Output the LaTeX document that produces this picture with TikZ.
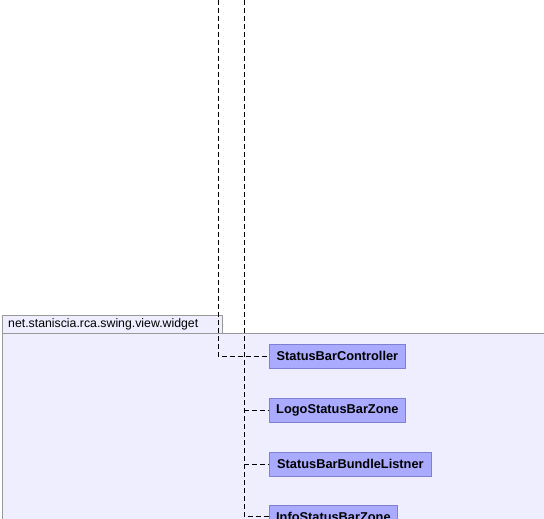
\documentclass[tikz,border=0pt]{standalone}
\usepackage{fontspec}
\setmainfont{Liberation Sans}
\begin{document}
\begin{tikzpicture}[x=1pt,y=-1pt,
  pkg/.style={draw=pkgline,fill=pkgfill,line width=0.8pt},
  cls/.style={draw=clsline,fill=clsfill,line width=0.8pt,anchor=north west,inner sep=0pt,
    font=\bfseries\fontsize{12.8}{14}\selectfont,align=center},
  dep/.style={draw=black,line width=0.7pt,dash pattern=on 5pt off 3pt}]
\definecolor{pkgfill}{HTML}{EEEEFF}
\definecolor{pkgline}{HTML}{999999}
\definecolor{clsfill}{HTML}{AAAAFF}
\definecolor{clsline}{HTML}{8080D0}
\useasboundingbox (0,0) rectangle (544,519);
\fill[white] (0,0) rectangle (544,519);
% package frame with its tab
\path[pkg] (2,315) rectangle (222,333);
\path[pkg] (2,333) rectangle (560,540);
\node[anchor=west,inner sep=0pt,font=\fontsize{12.3}{14}\selectfont] (pkgname) at (8,324.5) {net.staniscia.rca.swing.view.widget};
% classes
\node[cls,minimum width=136pt,minimum height=24pt] (ctrl) at (269,343.5) {StatusBarController};
\node[cls,minimum width=136pt,minimum height=24pt] (logo) at (269,397.5) {LogoStatusBarZone};
\node[cls,minimum width=162pt,minimum height=24pt] (bundle) at (269,451.5) {StatusBarBundleListner};
\node[cls,minimum width=128pt,minimum height=24pt] (info) at (269,504.5) {InfoStatusBarZone};
% dependency lines coming from above
\coordinate (topA) at (218,0);
\coordinate (topB) at (244,0);
\draw[dep] (topA) |- (ctrl.west);
\draw[dep] (topB) |- ([yshift=-0.5pt]info.west |- 0,516);
\draw[dep] (topB |- logo.west) -- (logo.west);
\draw[dep] (topB |- bundle.west) -- (bundle.west);
\end{tikzpicture}
\end{document}
